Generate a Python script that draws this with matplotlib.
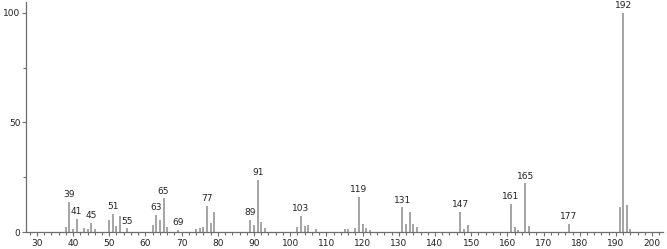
import matplotlib
matplotlib.use("Agg")
import matplotlib.pyplot as plt
from matplotlib.ticker import MultipleLocator, FixedLocator

# m/z and relative intensity
mz = [38, 39, 40, 41, 43, 44, 45, 46, 50, 51, 52, 53, 55,
      62, 63, 64, 65, 66, 69, 74, 75, 76, 77, 78, 79,
      89, 90, 91, 92, 93, 102, 103, 104, 105, 107,
      115, 116, 118, 119, 120, 121, 122,
      131, 132, 133, 134, 135, 147, 148, 149,
      161, 162, 163, 165, 166, 177, 191, 192, 193, 194]
intensity = [2.4, 13.8, 1.4, 5.9, 1.8, 1.4, 4.3, 1.2, 5.5, 8.4, 2.9, 7.5, 1.7,
             3.0, 7.9, 5.5, 15.4, 2.1, 0.9, 1.4, 1.7, 2.1, 12.0, 4.3, 9.1,
             5.5, 3.2, 23.7, 4.4, 2.0, 2.1, 7.3, 2.9, 3.2, 1.4,
             1.2, 1.4, 1.8, 16.1, 3.7, 1.8, 0.9,
             11.3, 3.8, 9.1, 3.8, 2.1, 9.3, 1.2, 3.0,
             12.8, 2.1, 0.8, 22.2, 2.6, 3.7, 11.6, 100.0, 12.2, 1.2]
labelled = [39, 41, 45, 51, 55, 63, 65, 69, 77, 89, 91, 103,
            119, 131, 147, 161, 165, 177, 192]

BAR = "#8c8c8c"
AXIS = "#6e6e6e"

fig = plt.figure(figsize=(6.67, 2.49), dpi=100)
ax = fig.add_axes([26 / 667, 17 / 249, 637 / 667, 230 / 249])

ax.vlines(mz, 0, intensity, color=BAR, linewidth=1.1)
for m, h in zip(mz, intensity):
    if m in labelled:
        ax.text(m, h + 1.2, str(m), ha="center", va="bottom",
                fontsize=6.5, color="#222222")

ax.set_xlim(27, 203)
ax.set_ylim(0, 105)

for s in ("top", "right"):
    ax.spines[s].set_visible(False)
for s in ("left", "bottom"):
    ax.spines[s].set_color(AXIS)
    ax.spines[s].set_linewidth(0.9)

ax.xaxis.set_major_locator(MultipleLocator(10))
ax.xaxis.set_minor_locator(MultipleLocator(2))
ax.yaxis.set_major_locator(FixedLocator([0, 50, 100]))
ax.yaxis.set_minor_locator(FixedLocator([25, 75]))
ax.tick_params(axis="both", which="both", direction="out", color=AXIS,
               labelsize=6.5, labelcolor="#222222", width=0.8)
ax.tick_params(axis="x", which="major", length=3, pad=2)
ax.tick_params(axis="x", which="minor", length=2)
ax.tick_params(axis="y", which="major", length=3, pad=1)
ax.tick_params(axis="y", which="minor", length=2)

fig.savefig("out.png", dpi=100)
